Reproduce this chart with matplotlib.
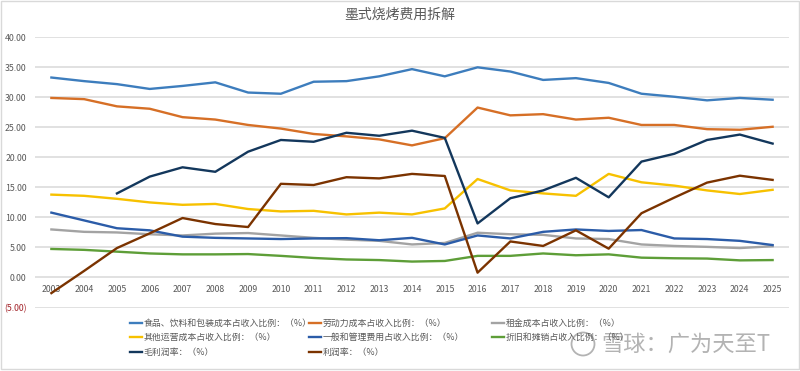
import matplotlib
matplotlib.use("Agg")
import matplotlib.pyplot as plt
from matplotlib.patches import Rectangle, Ellipse
from matplotlib.ticker import FuncFormatter

plt.rcParams['font.family'] = ['Noto Sans CJK SC', 'DejaVu Sans']

years = [str(y) for y in range(2003, 2026)]

food = [33.3, 32.7, 32.2, 31.4, 31.9, 32.5, 30.8, 30.6, 32.6, 32.7, 33.5, 34.7, 33.5,
        35.0, 34.3, 32.9, 33.2, 32.4, 30.6, 30.1, 29.5, 29.9, 29.6]
labor = [29.9, 29.7, 28.5, 28.1, 26.7, 26.3, 25.4, 24.8, 23.9, 23.5, 23.0, 22.0, 23.2,
         28.3, 27.0, 27.2, 26.3, 26.6, 25.4, 25.4, 24.7, 24.6, 25.1]
rent = [8.0, 7.6, 7.5, 7.2, 7.0, 7.3, 7.4, 7.0, 6.6, 6.3, 6.1, 5.5, 5.75,
        7.45, 7.2, 7.1, 6.5, 6.4, 5.5, 5.25, 5.1, 4.9, 5.2]
other_ops = [13.8, 13.6, 13.1, 12.5, 12.1, 12.25, 11.4, 11.0, 11.1, 10.5, 10.8, 10.5, 11.5,
             16.4, 14.5, 14.0, 13.6, 17.25, 15.85, 15.3, 14.5, 13.9, 14.6]
g_and_a = [10.8, 9.5, 8.2, 7.85, 6.8, 6.6, 6.5, 6.4, 6.5, 6.55, 6.2, 6.6, 5.5,
           7.0, 6.5, 7.6, 8.0, 7.75, 7.9, 6.5, 6.4, 6.1, 5.4]
dep_amort = [4.75, 4.6, 4.3, 4.0, 3.85, 3.85, 3.9, 3.6, 3.25, 3.0, 2.9, 2.65, 2.75,
             3.6, 3.6, 4.0, 3.7, 3.85, 3.3, 3.2, 3.15, 2.85, 2.9]
gross_margin = [None, None, 14.0, 16.8, 18.35, 17.6, 20.95, 22.9, 22.6, 24.1, 23.6, 24.45, 23.25,
                9.0, 13.2, 14.5, 16.6, 13.35, 19.3, 20.6, 22.9, 23.8, 22.3]
profit_margin = [-2.6, 1.1, 4.9, 7.35, 9.9, 8.9, 8.4, 15.6, 15.4, 16.7, 16.5, 17.25, 16.9,
                 0.8, 6.0, 5.25, 7.85, 4.8, 10.7, 13.3, 15.8, 16.95, 16.25]

labels = ['食品、饮料和包装成本占收入比例：（%）', '劳动力成本占收入比例：（%）', '租金成本占收入比例：（%）',
          '其他运营成本占收入比例：（%）', '一般和管理费用占收入比例：（%）', '折旧和摊销占收入比例：（%）',
          '毛利润率：（%）', '利润率：（%）']
colors = ['#3D7DBD', '#D66F26', '#A3A3A3', '#F7C100', '#2B5CA8', '#5E9E38', '#13375C', '#7B3300']
series = [food, labor, rent, other_ops, g_and_a, dep_amort, gross_margin, profit_margin]

fig = plt.figure(figsize=(8, 3.71), dpi=100)
ax = fig.add_axes([35 / 800, 1 - 307.5 / 371, 754 / 800, 270.2 / 371])

x = list(range(len(years)))
lines = []
for vals, c, lab in zip(series, colors, labels):
    xs = [i for i, v in zip(x, vals) if v is not None]
    ys = [v for v in vals if v is not None]
    ln, = ax.plot(xs, ys, color=c, lw=1.7, label=lab, solid_joinstyle='round')
    lines.append(ln)

ax.set_xlim(-0.5, len(years) - 0.5)
ax.set_ylim(-5, 40)
ax.set_yticks(range(-5, 41, 5))
ax.yaxis.grid(True, color='#D9D9D9', lw=1.1)
ax.set_axisbelow(True)
for s in ['top', 'right', 'left']:
    ax.spines[s].set_visible(False)
ax.spines['bottom'].set_position(('data', 0))
ax.spines['bottom'].set_visible(False)
ax.set_xticks(x)
ax.set_xticklabels(years)
ax.tick_params(axis='x', length=0, pad=5.5, labelsize=6.3, labelcolor='#595959')
ax.tick_params(axis='y', length=0, pad=6, labelsize=6.3, labelcolor='#595959')


def fmt(v, pos):
    return '(%.2f)' % abs(v) if v < 0 else '%.2f' % v


ax.yaxis.set_major_formatter(FuncFormatter(fmt))
for t, v in zip(ax.get_yticklabels(), ax.get_yticks()):
    if v < 0:
        t.set_color('#A3242A')

fig.text(0.5, 1 - 15 / 371, '墨式烧烤费用拆解', ha='center', va='center', fontsize=10, color='#595959')

# legend, one column at a time
col_x = [130 / 800, 309 / 800, 492 / 800]
cols = [[0, 3, 6], [1, 4, 7], [2, 5]]
for cx, idx in zip(col_x, cols):
    fig.legend([lines[i] for i in idx], [labels[i] for i in idx], loc='upper left',
               bbox_to_anchor=(cx, 1 - 319 / 371), frameon=False, fontsize=6.4,
               handlelength=1.3, handletextpad=0.25, labelspacing=0.6,
               borderpad=0, borderaxespad=0, labelcolor='#595959')

# watermark
fig.text(601 / 800, 1 - 344 / 371, '雪球：广为天至T', ha='left', va='center', fontsize=16,
         color='#9A9A9A', alpha=0.75)
fig.patches.append(Ellipse((583 / 800, 1 - 344 / 371), 23 / 800, 23 / 371, fill=False,
                           edgecolor='#9A9A9A', lw=1.3, alpha=0.75, transform=fig.transFigure))

fig.patches.append(Rectangle((0.5 / 800, 2 / 371), 798.5 / 800, 368 / 371, fill=False,
                             edgecolor='#D9D9D9', lw=1, transform=fig.transFigure))

fig.savefig('out.png', dpi=100)
